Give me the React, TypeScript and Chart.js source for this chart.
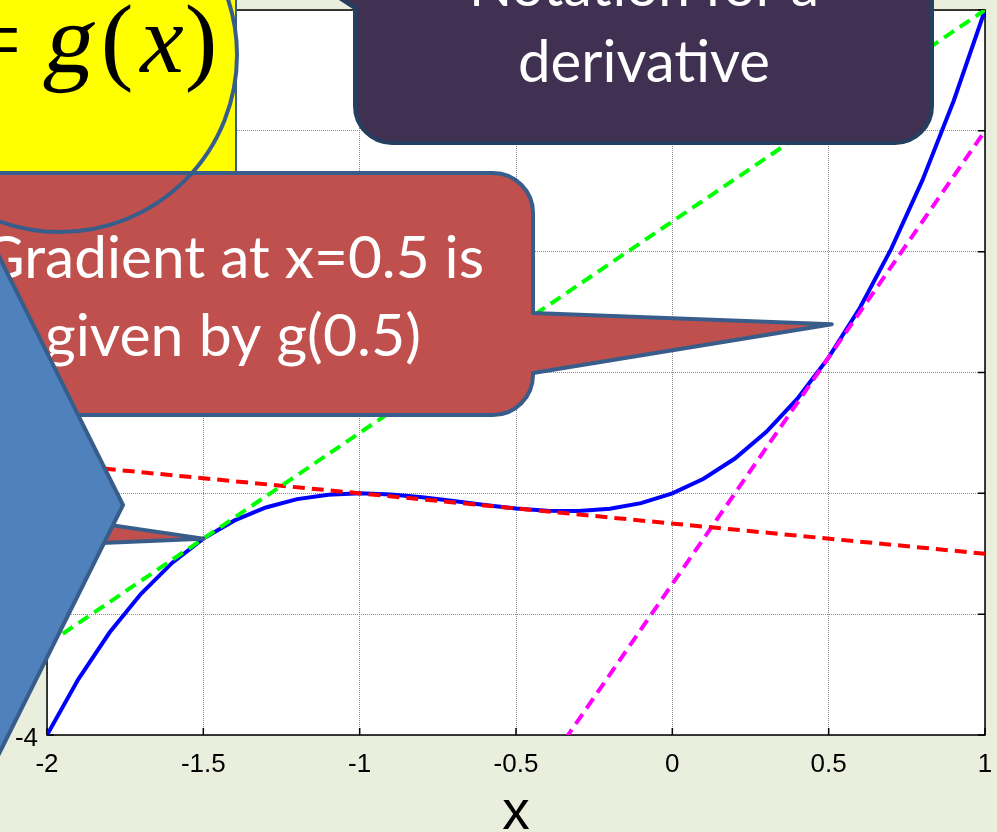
import { useEffect, useRef } from "react";
import { Chart, registerables } from "chart.js";

Chart.register(...registerables);

// Sampled curve g(x)
const xSamples = [-2, -1.9, -1.8, -1.7, -1.6, -1.5, -1.4, -1.3, -1.2, -1.1, -1, -0.9, -0.8, -0.7, -0.6, -0.5, -0.4, -0.3, -0.2, -0.1, 0, 0.1, 0.2, 0.3, 0.4, 0.5, 0.6, 0.7, 0.8, 0.9, 1];
const curveValues = [-4, -3.539, -3.152, -2.833, -2.576, -2.375, -2.224, -2.117, -2.048, -2.011, -2, -2.009, -2.032, -2.063, -2.096, -2.125, -2.144, -2.147, -2.128, -2.081, -2, -1.879, -1.712, -1.493, -1.216, -0.875, -0.464, 0.023, 0.592, 1.249, 2];

// Tangent lines, given by their two end points
const lineEndsX = [-2, 1];
const tangentGreen = [-3.25, 2];
const tangentRed = [-1.75, -2.5];
const tangentMagenta = [-10.25, 1];

const xTickValues = [-2, -1.5, -1, -0.5, 0, 0.5, 1];
const xTickLabels = ["-2", "-1.5", "-1", "-0.5", "0", "0.5", "1"];
const yTickValues = [-4, -3, -2, -1, 0, 1, 2];
const yTickLabels = ["-4", "-3", "-2", "-1", "0", "1", "2"];
const axisTitle = "x";

const notationLines = ["Notation for a", "derivative"];
const gradientLines = ["Gradient at x=0.5 is", "given by g(0.5)"];

// Callout pointer tips, in data units
const gradientTip = { x: 0.51, y: -0.6 };
const curveTip = { x: -1.5, y: -2.375 };

const BG = "#EAEEDD";
const OUTLINE = "#385D8A";
const SANS = '"Liberation Sans", Arial, sans-serif';
const SERIF = '"Liberation Serif", "Times New Roman", serif';

function fitText(ctx: CanvasRenderingContext2D, text: string, cx: number, baseline: number, width: number) {
  const w = ctx.measureText(text).width;
  ctx.save();
  ctx.translate(cx, baseline);
  ctx.scale(width / w, 1);
  ctx.textAlign = "center";
  ctx.textBaseline = "alphabetic";
  ctx.fillText(text, 0, 0);
  ctx.restore();
}

const framePlugin = {
  id: "frame",
  beforeDraw(chart: any) {
    const { ctx, chartArea: a, width, height } = chart;
    ctx.save();
    ctx.fillStyle = BG;
    ctx.fillRect(0, 0, width, height);
    ctx.fillStyle = "#FFFFFF";
    ctx.fillRect(a.left, a.top, a.right - a.left, a.bottom - a.top);
    ctx.restore();
  },
  beforeDatasetsDraw(chart: any) {
    const { ctx, chartArea: a, scales } = chart;
    ctx.save();
    ctx.strokeStyle = "#000";
    ctx.lineWidth = 1.5;
    ctx.strokeRect(a.left, a.top, a.right - a.left, a.bottom - a.top);
    const t = 7;
    ctx.beginPath();
    for (const tk of scales.x.ticks) {
      const px = scales.x.getPixelForValue(tk.value);
      ctx.moveTo(px, a.bottom);
      ctx.lineTo(px, a.bottom - t);
      ctx.moveTo(px, a.top);
      ctx.lineTo(px, a.top + t);
    }
    for (const tk of scales.y.ticks) {
      const py = scales.y.getPixelForValue(tk.value);
      ctx.moveTo(a.left, py);
      ctx.lineTo(a.left + t, py);
      ctx.moveTo(a.right, py);
      ctx.lineTo(a.right - t, py);
    }
    ctx.stroke();
    ctx.restore();
  },
};

const calloutPlugin = {
  id: "callouts",
  afterDraw(chart: any) {
    const { ctx, scales } = chart;
    const px = (v: number) => scales.x.getPixelForValue(v);
    const py = (v: number) => scales.y.getPixelForValue(v);
    ctx.save();
    ctx.lineJoin = "round";

    // yellow formula panel
    ctx.fillStyle = "#FFFF00";
    ctx.fillRect(0, 0, 236, 174);
    ctx.strokeStyle = OUTLINE;
    ctx.lineWidth = 2;
    ctx.beginPath();
    ctx.moveTo(236, 0);
    ctx.lineTo(236, 174);
    ctx.stroke();

    ctx.fillStyle = "#000";
    ctx.textAlign = "center";
    ctx.textBaseline = "alphabetic";
    ctx.font = "98px " + SERIF;
    ctx.fillText("=", -6, 72);
    ctx.fillText("(", 117, 72);
    ctx.fillText(")", 201, 72);
    // slanted roman g
    ctx.save();
    ctx.translate(66, 72);
    ctx.transform(1, 0, -0.18, 1, 0, 0);
    ctx.fillText("g", 0, 0);
    ctx.restore();
    ctx.font = "italic 98px " + SERIF;
    ctx.fillText("x", 162, 72);

    // purple "notation" callout
    {
      const L = 355, R = 932, T = -90, B = 143, r = 37;
      ctx.beginPath();
      ctx.moveTo(L, T);
      ctx.lineTo(R, T);
      ctx.lineTo(R, B - r);
      ctx.arcTo(R, B, R - r, B, r);
      ctx.lineTo(L + r, B);
      ctx.arcTo(L, B, L, B - r, r);
      ctx.lineTo(L, 8);
      ctx.lineTo(250, -60);
      ctx.lineTo(L, -30);
      ctx.closePath();
      ctx.fillStyle = "#403152";
      ctx.fill();
      ctx.strokeStyle = "#243F60";
      ctx.lineWidth = 4;
      ctx.stroke();
      ctx.fillStyle = "#FFFFFF";
      ctx.font = '58px "Lato"';
      fitText(ctx, notationLines[0], 644, 6, 350);
      fitText(ctx, notationLines[1], 644, 82, 252);
    }

    // red callout pointing at the point x = -1.5 (body lies off to the left)
    {
      const tx = px(curveTip.x), ty = py(curveTip.y);
      ctx.beginPath();
      ctx.moveTo(-40, 503);
      ctx.lineTo(tx, ty);
      ctx.lineTo(-40, 549);
      ctx.closePath();
      ctx.fillStyle = "#C0504D";
      ctx.fill();
      ctx.strokeStyle = OUTLINE;
      ctx.lineWidth = 4;
      ctx.stroke();
    }

    // red "gradient" callout
    {
      const L = -80, R = 533, T = 173, B = 415, r = 40;
      const tx = px(gradientTip.x), ty = py(gradientTip.y);
      ctx.beginPath();
      ctx.moveTo(L, T);
      ctx.lineTo(R - r, T);
      ctx.arcTo(R, T, R, T + r, r);
      ctx.lineTo(R, 313);
      ctx.lineTo(tx, ty);
      ctx.lineTo(R, 373);
      ctx.lineTo(R, B - r);
      ctx.arcTo(R, B, R - r, B, r);
      ctx.lineTo(L, B);
      ctx.closePath();
      ctx.fillStyle = "#C0504D";
      ctx.fill();
      ctx.strokeStyle = OUTLINE;
      ctx.lineWidth = 4;
      ctx.stroke();
      ctx.fillStyle = "#FFFFFF";
      ctx.font = '58px "Lato"';
      fitText(ctx, gradientLines[0], 233, 278, 502);
      fitText(ctx, gradientLines[1], 233, 356, 376);
    }

    // circle around the formula
    ctx.beginPath();
    ctx.arc(60, 55, 177, 0, Math.PI * 2);
    ctx.strokeStyle = OUTLINE;
    ctx.lineWidth = 4;
    ctx.stroke();

    // blue arrow on the left
    ctx.beginPath();
    ctx.moveTo(-300, 200);
    ctx.lineTo(-29, 200);
    ctx.lineTo(123, 505);
    ctx.lineTo(-29, 810);
    ctx.lineTo(-300, 810);
    ctx.closePath();
    ctx.fillStyle = "#4F81BD";
    ctx.fill();
    ctx.lineJoin = "miter";
    ctx.strokeStyle = OUTLINE;
    ctx.lineWidth = 4;
    ctx.stroke();

    ctx.restore();
  },
};

export default function App() {
  const ref = useRef<HTMLCanvasElement | null>(null);

  useEffect(() => {
    if (!ref.current) return;
    const pts = (ys: number[], xs: number[]) => xs.map((x, i) => ({ x, y: ys[i] }));
    const tickFont = { family: SANS, size: 26 };
    const dash = [12, 7];
    const chart = new Chart(ref.current, {
      type: "line",
      data: {
        datasets: [
          { label: "tangent at -1.5", data: pts(tangentGreen, lineEndsX), borderColor: "#00FF00", borderWidth: 4, borderDash: dash, pointRadius: 0, order: 1 },
          { label: "tangent at -0.5", data: pts(tangentRed, lineEndsX), borderColor: "#FF0000", borderWidth: 4, borderDash: dash, pointRadius: 0, order: 2 },
          { label: "tangent at 0.5", data: pts(tangentMagenta, lineEndsX), borderColor: "#FF00FF", borderWidth: 4, borderDash: dash, pointRadius: 0, order: 3 },
          { label: "g(x)", data: pts(curveValues, xSamples), borderColor: "#0000FF", borderWidth: 4, pointRadius: 0, order: 4 },
        ],
      },
      options: {
        responsive: false,
        animation: false,
        devicePixelRatio: 1,
        layout: { padding: { top: 10, right: 12, left: 0, bottom: 0 } },
        plugins: { legend: { display: false }, tooltip: { enabled: false } },
        scales: {
          x: {
            type: "linear",
            min: -2,
            max: 1,
            afterBuildTicks: (s: any) => {
              s.ticks = xTickValues.map((value) => ({ value }));
            },
            afterFit: (s: any) => {
              s.height = 97;
              s.paddingLeft = 0;
              s.paddingRight = 0;
            },
            ticks: {
              callback: (_v: any, i: number) => xTickLabels[i],
              color: "#000",
              font: tickFont,
              padding: 14,
              maxRotation: 0,
              autoSkip: false,
            },
            grid: { color: "#8C8C8C", lineWidth: 1, drawTicks: false },
            border: { display: false, dash: [1, 1] },
            title: {
              display: true,
              text: axisTitle,
              color: "#000",
              font: { family: SANS, size: 55, lineHeight: 0.66 },
              padding: 0,
            },
          },
          y: {
            type: "linear",
            min: -4,
            max: 2,
            afterBuildTicks: (s: any) => {
              s.ticks = yTickValues.map((value) => ({ value }));
            },
            afterFit: (s: any) => {
              s.width = 47;
              s.paddingTop = 0;
              s.paddingBottom = 0;
            },
            ticks: {
              callback: (_v: any, i: number) => yTickLabels[i],
              color: "#000",
              font: tickFont,
              padding: 9,
              labelOffset: 4,
              autoSkip: false,
            },
            grid: { color: "#8C8C8C", lineWidth: 1, drawTicks: false },
            border: { display: false, dash: [1, 1] },
          },
        },
      },
      plugins: [framePlugin, calloutPlugin],
    } as any);
    return () => chart.destroy();
  }, []);

  return (
    <div style={{ position: "fixed", left: 0, top: 0, width: 997, height: 832 }}>
      <canvas ref={ref} width={997} height={832} style={{ display: "block" }} />
    </div>
  );
}
